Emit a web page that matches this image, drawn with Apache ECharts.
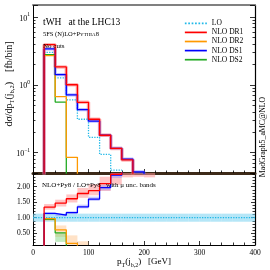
<!DOCTYPE html>
<html><head><meta charset="utf-8">
<script src="https://cdn.jsdelivr.net/npm/echarts@6/dist/echarts.min.js"></script>
<style>html,body{margin:0;padding:0;background:#fff}#c{width:270px;height:270px}</style>
</head><body><div id="c"></div>
<script>
// ---------- data ----------
const binEdges = [0,20,40,60,80,100,120,140,160,180,200,220,240,260,280,300,320,340,360,380,400];
// main panel: dsigma/dpT per 20 GeV bin [fb/bin]
const mainLO  = [0, 3.00, 1.26, 0.60, 0.31, 0.168, 0.094, 0.055, 0, 0, 0,0,0,0,0,0,0,0,0,0];
const mainDR1 = [0, 3.90, 1.83, 1.00, 0.55, 0.31, 0.18, 0.115, 0.078, 0, 0,0,0,0,0,0,0,0,0,0];
const mainDR2 = [0, 2.69, 0.67, 0.085, 0, 0, 0, 0, 0, 0, 0,0,0,0,0,0,0,0,0,0];
const mainDS1 = [0, 3.38, 1.41, 0.71, 0.43, 0.29, 0.18, 0.115, 0.080, 0.052, 0,0,0,0,0,0,0,0,0,0];
const mainDS2 = [0, 2.78, 0.555, 0, 0, 0, 0, 0, 0, 0, 0,0,0,0,0,0,0,0,0,0];
// ratio panel: NLO+Py8 / LO+Py8
const ratioLO  = [1,1,1,1,1,1,1,1,1,1,1,1,1,1,1,1,1,1,1,1];
const ratioDR1 = [0, 1.34, 1.47, 1.61, 1.78, 1.87, 2.10, 2.40, 3.0, null, null,null,null,null,null,null,null,null,null,null];
const ratioDS1 = [0, 1.14, 1.08, 1.16, 1.35, 1.60, 1.97, 2.37, 3.0, null, null,null,null,null,null,null,null,null,null,null];
const ratioDR2 = [0, 0.97, 0.61, 0.17, 0, null, null,null,null,null,null,null,null,null,null,null,null,null,null,null];
const ratioDS2 = [0, 0.95, 0.51, 0, null, null, null,null,null,null,null,null,null,null,null,null,null,null,null,null];
// scale-uncertainty bands in the ratio panel (low / high per bin)
const bandLOLow  = [0.87,0.87,0.87,0.87,0.87,0.87,0.87,0.87,0.87,0.87,0.87,0.87,0.87,0.87,0.87,0.87,0.87,0.87,0.87,0.87];
const bandLOHigh = [1.13,1.13,1.13,1.13,1.13,1.13,1.13,1.13,1.13,1.13,1.13,1.13,1.13,1.13,1.13,1.13,1.13,1.13,1.13,1.13];
const bandDR1Low  = [null, 1.26, 1.36, 1.49, 1.64, 1.72, 1.86, 2.06, 2.30, 2.32, 2.30, null,null,null,null,null,null,null,null,null];
const bandDR1High = [null, 1.44, 1.58, 1.75, 1.96, 2.08, 2.32, 2.80, 3.0, 3.0, 3.0, null,null,null,null,null,null,null,null,null];
const bandDS1Low  = [null, 1.10, 1.05, 1.12, 1.30, 1.54, 1.88, 2.28, null, null, null,null,null,null,null,null,null,null,null,null];
const bandDS1High = [null, 1.17, 1.12, 1.21, 1.42, 1.68, 2.05, 2.44, null, null, null,null,null,null,null,null,null,null,null,null];
const bandDR2Low  = [null, 0.90, 0.38, 0.05, 0.05, null, null,null,null,null,null,null,null,null,null,null,null,null,null,null];
const bandDR2High = [null, 1.00, 0.75, 0.43, 0.24, null, null,null,null,null,null,null,null,null,null,null,null,null,null,null];
const bandDS2Low  = [null, 0.92, 0.22, null, null, null, null,null,null,null,null,null,null,null,null,null,null,null,null,null];
const bandDS2High = [null, 0.98, 0.50, null, null, null, null,null,null,null,null,null,null,null,null,null,null,null,null,null];
// tick values
const xTicks = [0, 100, 200, 300, 400];
const logMinor = [0.06,0.07,0.08,0.09,0.2,0.3,0.4,0.5,0.6,0.7,0.8,0.9,2,3,4,5,6,7,8,9];
const ratioMajor = [0.5, 1.0, 1.5, 2.0];
const ratioMinor = [0.2,0.3,0.4,0.6,0.7,0.8,0.9,1.1,1.2,1.3,1.4,1.6,1.7,1.8,1.9,2.1,2.2,2.3,2.4];

// ---------- build ----------
const SERIF = '"Liberation Serif","DejaVu Serif",serif';
const C = {lo:'#1fb8e8', dr1:'#ff0000', dr2:'#ff9900', ds1:'#0000ff', ds2:'#22aa22'};
function stepMain(vals){
  const p = vals.map((v,i)=>[binEdges[i], v>0 ? v : 1e-4]);
  p.push([binEdges[binEdges.length-1], p[p.length-1][1]]);
  return p;
}
function stepRatio(vals){
  const p = vals.map((v,i)=>[binEdges[i], v===null ? null : (v>0 ? v : -1)]);
  p.push([binEdges[binEdges.length-1], p[p.length-1][1]]);
  return p;
}
function bandData(lo, hi){
  const d = [];
  lo.forEach((v,i)=>{ if(v!==null && hi[i]!==null) d.push([binEdges[i], binEdges[i+1], v, hi[i]]); });
  return d;
}
function bandSeries(name, lo, hi, color){
  return {
    name, type:'custom', xAxisIndex:2, yAxisIndex:4, z:1, silent:true,
    encode:{x:[0,1], y:[2,3]},
    data: bandData(lo, hi),
    renderItem(params, api){
      const a = api.coord([api.value(0), api.value(3)]);
      const b = api.coord([api.value(1), api.value(2)]);
      const cs = params.coordSys;
      const r = echarts.graphic.clipRectByRect(
        {x:a[0], y:a[1], width:b[0]-a[0], height:b[1]-a[1]},
        {x:cs.x, y:cs.y, width:cs.width, height:cs.height});
      if(!r) return null;
      return {type:'rect', shape:r, style:{fill:color}};
    }
  };
}
function lineS(name, data, color, xi, yi, extra){
  return Object.assign({
    name, type:'line', step:'end', symbol:'none', xAxisIndex:xi, yAxisIndex:yi,
    data, lineStyle:{color, width:1.3}, itemStyle:{color}, z:3, silent:true
  }, extra||{});
}
const tickStyle = {color:'#000', width:0.8};
const supLabel = v => {
  const e = Math.log10(v), r = Math.round(e);
  if (Math.abs(e-r) > 1e-6) return '';
  return '{b|10}{s|' + (r<0?'\u22121':String(r)) + '}';
};
function xAx(grid, pos, opts){
  return Object.assign({type:'value', gridIndex:grid, position:pos, min:0, max:400, interval:100,
    splitLine:{show:false}, axisLabel:{show:false}, axisTick:{show:false}, axisLine:{show:false}}, opts);
}
const logBase = {type:'log', gridIndex:0, min:0.05, max:15, splitLine:{show:false}, axisLabel:{show:false}};
const ratioBase = {type:'value', gridIndex:1, min:0.12, max:2.44, splitLine:{show:false}, axisLabel:{show:false}};

const option = {
  animation:false,
  backgroundColor:'#fff',
  grid:[
    {left:33, right:15, top:5, height:168},
    {left:33, right:15, top:173, height:72}
  ],
  xAxis:[
    xAx(0,'bottom',{axisLine:{show:true, lineStyle:{color:'#3d2a18', width:3}},
      axisTick:{show:true, inside:true, length:4, lineStyle:tickStyle},
      minorTick:{show:true, splitNumber:5, length:2.5, lineStyle:tickStyle}}),
    xAx(0,'top',{axisLine:{show:true, lineStyle:{color:'#808080', width:2}}}),
    xAx(1,'bottom',{axisLine:{show:true, lineStyle:{color:'#000', width:1}},
      axisTick:{show:true, inside:true, length:4, lineStyle:tickStyle},
      minorTick:{show:true, splitNumber:5, length:2.5, lineStyle:tickStyle},
      axisLabel:{show:true, margin:4, fontSize:7.5, fontFamily:SERIF, color:'#000', customValues:xTicks}})
  ],
  yAxis:[
    Object.assign({}, logBase, {position:'left', axisLine:{show:true, lineStyle:{color:'#000', width:1}},
      axisTick:{show:true, inside:true, length:5, lineStyle:tickStyle},
      axisLabel:{show:true, margin:3, formatter:supLabel, color:'#000',
        rich:{b:{fontSize:8, fontFamily:SERIF, color:'#000', verticalAlign:'bottom', lineHeight:11},
              s:{fontSize:5.5, fontFamily:SERIF, color:'#000', verticalAlign:'top', lineHeight:11}}}}),
    Object.assign({}, logBase, {position:'left', axisLine:{show:false},
      axisTick:{show:true, inside:true, length:2.5, lineStyle:tickStyle, customValues:logMinor}}),
    Object.assign({}, logBase, {position:'right', axisLine:{show:true, lineStyle:{color:'#000', width:1.2}},
      axisTick:{show:true, inside:true, length:5, lineStyle:tickStyle}}),
    Object.assign({}, logBase, {position:'right', axisLine:{show:false},
      axisTick:{show:true, inside:true, length:2.5, lineStyle:tickStyle, customValues:logMinor}}),
    Object.assign({}, ratioBase, {position:'left', axisLine:{show:true, lineStyle:{color:'#000', width:1}},
      axisTick:{show:true, inside:true, length:4, lineStyle:tickStyle, customValues:ratioMajor},
      axisLabel:{show:true, margin:3, fontSize:7.5, fontFamily:SERIF, color:'#000', customValues:ratioMajor,
        formatter:v=>v.toFixed(2)}}),
    Object.assign({}, ratioBase, {position:'left', axisLine:{show:false},
      axisTick:{show:true, inside:true, length:2.5, lineStyle:tickStyle, customValues:ratioMinor}}),
    Object.assign({}, ratioBase, {position:'right', axisLine:{show:true, lineStyle:{color:'#000', width:1.2}},
      axisTick:{show:true, inside:true, length:4, lineStyle:tickStyle, customValues:ratioMajor}}),
    Object.assign({}, ratioBase, {position:'right', axisLine:{show:false},
      axisTick:{show:true, inside:true, length:2.5, lineStyle:tickStyle, customValues:ratioMinor}})
  ],
  legend:{
    orient:'vertical', left:184, top:19.3, padding:0, itemWidth:22, itemHeight:6, itemGap:1.1,
    selectedMode:false,
    itemStyle:{opacity:0},
    lineStyle:{width:1.7},
    textStyle:{fontFamily:SERIF, fontSize:7.5, color:'#000'},
    data:['LO','NLO DR1','NLO DR2','NLO DS1','NLO DS2']
  },
  series:[
    // main panel
    lineS('DS1 halo', stepMain(mainDS1), 'rgba(110,110,255,0.45)', 0, 0, {lineStyle:{color:'rgba(110,110,255,0.45)', width:3.2}, z:2}),
    lineS('DR1 halo', stepMain(mainDR1), 'rgba(255,110,110,0.5)', 0, 0, {lineStyle:{color:'rgba(255,110,110,0.5)', width:3.5}, z:2}),
    lineS('LO', stepMain(mainLO), C.lo, 0, 0, {lineStyle:{color:C.lo, width:1.3, type:'dotted'}}),
    lineS('NLO DS2', stepMain(mainDS2), C.ds2, 0, 0),
    lineS('NLO DR2', stepMain(mainDR2), C.dr2, 0, 0),
    lineS('NLO DS1', stepMain(mainDS1), C.ds1, 0, 0),
    lineS('NLO DR1', stepMain(mainDR1), C.dr1, 0, 0),
    // ratio panel bands
    bandSeries('band LO', bandLOLow, bandLOHigh, 'rgba(120,210,240,0.55)'),
    bandSeries('band DR1', bandDR1Low, bandDR1High, 'rgba(255,150,150,0.55)'),
    bandSeries('band DS1', bandDS1Low, bandDS1High, 'rgba(140,140,255,0.45)'),
    bandSeries('band DR2', bandDR2Low, bandDR2High, 'rgba(255,190,130,0.45)'),
    bandSeries('band DS2', bandDS2Low, bandDS2High, 'rgba(120,210,120,0.45)'),
    // ratio panel lines
    lineS('r LO', stepRatio(ratioLO), C.lo, 2, 4, {lineStyle:{color:C.lo, width:1.3, type:'dotted'}}),
    lineS('r DS2', stepRatio(ratioDS2), C.ds2, 2, 4),
    lineS('r DR2', stepRatio(ratioDR2), C.dr2, 2, 4),
    lineS('r DS1', stepRatio(ratioDS1), C.ds1, 2, 4),
    lineS('r DR1', stepRatio(ratioDR1), C.dr1, 2, 4)
  ],
  graphic:[
    {type:'text', z:100, style:{x:43, y:22, text:'tWH   at the LHC13', fontFamily:SERIF, fontSize:9.5, fill:'#000', verticalAlign:'middle'}},
    {type:'text', z:100, style:{x:43, y:34.5, text:'{a|5FS (N)LO+P}{c|YTHIA}{a|8}', verticalAlign:'middle',
      rich:{a:{fontFamily:SERIF, fontSize:6.5, fill:'#000'}, c:{fontFamily:SERIF, fontSize:5, fill:'#000'}}}},
    {type:'text', z:100, style:{x:43, y:46, text:'No cuts', fontFamily:SERIF, fontSize:7, fill:'#000', verticalAlign:'middle'}},
    {type:'text', z:100, style:{x:42, y:185, text:'NLO+Py8 / LO+Py8   with \u03bc unc. bands', fontFamily:SERIF, fontSize:7, fill:'#000', verticalAlign:'middle'}},
    {type:'text', z:100, x:144, y:263, style:{text:'{m|p}{s|T}{m|(j}{s|b,2}{m|)   [GeV]}', align:'center', verticalAlign:'middle',
      rich:{m:{fontFamily:SERIF, fontSize:9, fill:'#000', verticalAlign:'top', lineHeight:11},
            s:{fontFamily:SERIF, fontSize:6, fill:'#000', verticalAlign:'bottom', lineHeight:11}}}},
    {type:'text', z:100, x:10, y:84, rotation:Math.PI/2, style:{text:'{m|d\u03c3/dp}{s|T}{m|(j}{s|b,2}{m|)    [fb/bin]}', align:'center', verticalAlign:'middle',
      rich:{m:{fontFamily:SERIF, fontSize:10, fill:'#000', verticalAlign:'top', lineHeight:12},
            s:{fontFamily:SERIF, fontSize:6.5, fill:'#000', verticalAlign:'bottom', lineHeight:12}}}},
    {type:'text', z:100, x:262.5, y:137, rotation:Math.PI/2, style:{text:'MadGraph5_aMC@NLO', fontFamily:SERIF, fontSize:7.8, fill:'#000', align:'center', verticalAlign:'middle'}}
  ]
};
const chart = echarts.init(document.getElementById('c'), null, {renderer:'canvas'});
chart.setOption(option);
</script>
</body></html>
